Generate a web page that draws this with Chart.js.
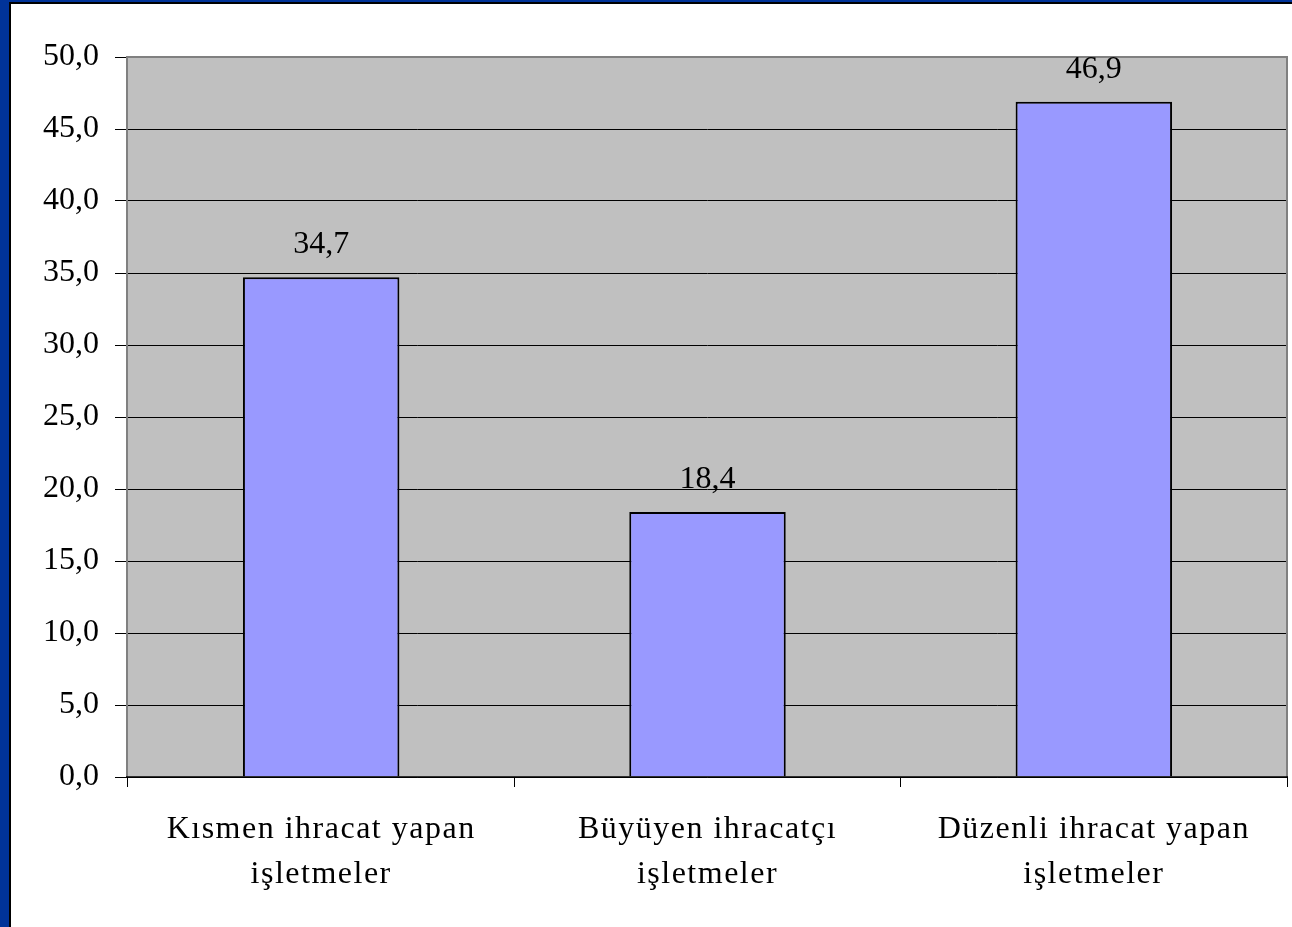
<!DOCTYPE html>
<html>
<head>
<meta charset="utf-8">
<script src="https://cdn.jsdelivr.net/npm/chart.js@4"></script>
<style>
  html, body { margin: 0; padding: 0; }
  body { width: 1292px; height: 927px; background: #003399; position: relative; overflow: hidden; }
  #sheet { position: absolute; left: 9px; top: 2px; right: 0; bottom: 0; background: #fff; border-left: 2px solid #000; border-top: 2px solid #000; }
  #wrap { position: absolute; left: 0; top: 0; width: 1292px; height: 927px; }
</style>
</head>
<body>
<div id="sheet"></div>
<div id="wrap"><canvas id="myChart"></canvas></div>
<script>
//datos
const categories = [
  ["Kısmen ihracat yapan", "işletmeler"],
  ["Büyüyen ihracatçı", "işletmeler"],
  ["Düzenli ihracat yapan", "işletmeler"]
];
const values = [34.7, 18.4, 46.9];
const yTicks = [0, 5, 10, 15, 20, 25, 30, 35, 40, 45, 50];

const fmt = (v) => v.toFixed(1).replace(".", ",");
const fontFam = "'Liberation Serif', 'Times New Roman', serif";

//fondo gris, borde, etiquetas de valores y de categorias
const plotBg = {
  id: "plotBg",
  beforeDraw: (chart) => {
    const { ctx, chartArea: a } = chart;
    ctx.save();
    ctx.fillStyle = "#C0C0C0";
    ctx.fillRect(a.left, a.top, a.right - a.left, a.bottom - a.top);
    ctx.restore();
  },
  afterDatasetsDraw: (chart) => {
    const { ctx, chartArea: a } = chart;
    ctx.save();
    ctx.strokeStyle = "#808080";
    ctx.lineWidth = 2;
    ctx.beginPath();
    ctx.moveTo(a.left - 1, a.bottom);
    ctx.lineTo(a.left - 1, a.top);
    ctx.lineTo(a.right, a.top);
    ctx.lineTo(a.right, a.bottom);
    ctx.stroke();
    ctx.strokeStyle = "#000";
    ctx.lineWidth = 1.5;
    ctx.beginPath();
    ctx.moveTo(a.left - 2, a.bottom);
    ctx.lineTo(a.right + 1, a.bottom);
    ctx.stroke();

    const meta = chart.getDatasetMeta(0);
    ctx.fillStyle = "#000";
    ctx.font = "32px " + fontFam;
    ctx.textAlign = "center";
    ctx.textBaseline = "alphabetic";
    meta.data.forEach((bar, i) => {
      ctx.fillText(fmt(values[i]), bar.x, bar.y - 24);
    });

    //etiquetas del eje x con espaciado
    const xs = chart.scales.x;
    ctx.letterSpacing = "1.5px";
    ctx.textBaseline = "middle";
    categories.forEach((lines, i) => {
      const x = xs.getPixelForTick(i);
      lines.forEach((txt, j) => {
        ctx.fillText(txt, x, xs.top + 53 + j * 45);
      });
    });
    ctx.restore();
  }
};

const config = {
  type: "bar",
  data: {
    labels: categories,
    datasets: [{
      data: values,
      backgroundColor: "#9999FF",
      borderColor: "#000",
      borderWidth: 2,
      barPercentage: 0.405,
      categoryPercentage: 1
    }]
  },
  options: {
    responsive: false,
    animation: false,
    layout: { padding: { top: 57, right: 5, left: 0, bottom: 0 } },
    plugins: { legend: { display: false }, tooltip: { enabled: false } },
    scales: {
      y: {
        min: 0,
        max: 50,
        afterBuildTicks: (scale) => { scale.ticks = yTicks.map((v) => ({ value: v })); },
        afterFit: (scale) => { scale.width = 128; },
        border: { display: false },
        grid: { color: "#000", lineWidth: 1, tickLength: 13 },
        ticks: {
          color: "#000",
          padding: 16,
          font: { family: fontFam, size: 32 },
          callback: (v) => fmt(v)
        }
      },
      x: {
        afterFit: (scale) => { scale.height = 150; },
        border: { display: false },
        grid: { offset: true, drawOnChartArea: false, color: "#000", tickLength: 10 },
        ticks: { display: false }
      }
    }
  },
  plugins: [plotBg]
};

const canvas = document.getElementById("myChart");
canvas.width = 1292;
canvas.height = 927;
const myChart = new Chart(canvas, config);
</script>
</body>
</html>
